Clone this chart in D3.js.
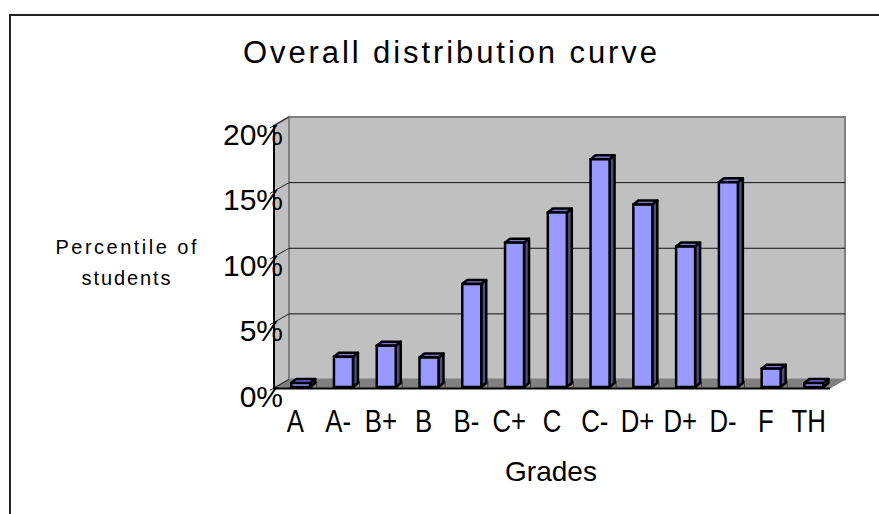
<!DOCTYPE html>
<html>
<head>
<meta charset="utf-8">
<script src="https://cdn.jsdelivr.net/npm/d3@7"></script>
<style>
  body { margin: 0; background: #fff; }
  svg { display: block; font-family: "Liberation Sans", Arial, sans-serif; }
</style>
</head>
<body>
<svg id="chart" width="879" height="514"></svg>
<script>
var grades = ['A', 'A-', 'B+', 'B', 'B-', 'C+', 'C', 'C-', 'D+', 'D+', 'D-', 'F', 'TH'];
var percents = [0.3, 2.3, 3.15, 2.25, 7.85, 11.0, 13.3, 17.35, 13.9, 10.7, 15.6, 1.4, 0.3];
var yTicks = [0, 5, 10, 15, 20];

var titleText = 'Overall distribution curve';
var yTitleLines = ['Percentile of', 'students'];
var xTitleText = 'Grades';

//////////////
// Settings //
//////////////

var svg = d3.select('#chart');

// front face of the plot box, and how far back the walls sit
var front = {left: 274, right: 830, bottom: 388, top: 125.5};
var depth = {dx: 15, dy: -8.5};
var barDepth = {dx: 5, dy: -4};
var barWidth = 19;

var x = d3.scaleBand()
  .domain(d3.range(grades.length))
  .range([front.left, front.right]);

var y = d3.scaleLinear()
  .domain([0, 20])
  .range([front.bottom, front.top]);

var pts = function(arr) {
  return arr.map(function(p) { return p.join(','); }).join(' ');
};

// outer chart border
svg.append('rect')
  .attr('x', 10).attr('y', 15)
  .attr('width', 900).attr('height', 540)
  .attr('fill', 'none')
  .attr('stroke', '#222')
  .attr('stroke-width', 2);

///////////
// Walls //
///////////

var walls = svg.append('g').classed('walls', true);

// back wall
walls.append('rect')
  .attr('x', front.left + depth.dx)
  .attr('y', y(20) + depth.dy)
  .attr('width', front.right - front.left)
  .attr('height', y(0) - y(20))
  .attr('fill', '#c0c0c0')
  .attr('stroke', '#808080')
  .attr('stroke-width', 2);

// side wall
walls.append('polygon')
  .attr('points', pts([
    [front.left, y(20)],
    [front.left + depth.dx, y(20) + depth.dy],
    [front.left + depth.dx, y(0) + depth.dy],
    [front.left, y(0)]
  ]))
  .attr('fill', '#c0c0c0')
  .attr('stroke', '#808080')
  .attr('stroke-width', 2);

// floor
walls.append('polygon')
  .attr('points', pts([
    [front.left, y(0)],
    [front.right, y(0)],
    [front.right + depth.dx, y(0) + depth.dy],
    [front.left + depth.dx, y(0) + depth.dy]
  ]))
  .attr('fill', '#808080')
  .attr('stroke', '#808080')
  .attr('stroke-width', 1);

// gridlines on the back wall (plus a diagonal over the side wall)
var grid = walls.selectAll('.grid')
  .data(yTicks.filter(function(t) { return t > 0 && t < 20; }))
  .enter()
  .append('g')
  .classed('grid', true);

grid.append('line')
  .attr('x1', front.left + depth.dx)
  .attr('x2', front.right + depth.dx)
  .attr('y1', function(t) { return y(t) + depth.dy; })
  .attr('y2', function(t) { return y(t) + depth.dy; })
  .attr('stroke', '#111')
  .attr('stroke-width', 1);

walls.selectAll('.tickdiag')
  .data(yTicks)
  .enter()
  .append('line')
  .classed('tickdiag', true)
  .attr('x1', front.left - 4)
  .attr('y1', function(t) { return y(t) + 2.3; })
  .attr('x2', front.left + depth.dx)
  .attr('y2', function(t) { return y(t) + depth.dy; })
  .attr('stroke', '#222')
  .attr('stroke-width', 1);

// value axis line
walls.append('line')
  .attr('x1', front.left).attr('x2', front.left)
  .attr('y1', y(20)).attr('y2', y(0) + 1)
  .attr('stroke', '#000')
  .attr('stroke-width', 2);

// category axis line and ticks
walls.append('line')
  .attr('x1', front.left).attr('x2', front.right)
  .attr('y1', y(0) + 0.5).attr('y2', y(0) + 0.5)
  .attr('stroke', '#000')
  .attr('stroke-width', 2);

walls.selectAll('.xtick')
  .data(d3.range(1, grades.length))
  .enter()
  .append('line')
  .classed('xtick', true)
  .attr('x1', function(i) { return x(i); })
  .attr('x2', function(i) { return x(i); })
  .attr('y1', y(0) - 7)
  .attr('y2', y(0))
  .attr('stroke', '#3a3a3a')
  .attr('stroke-width', 1);

//////////
// Bars //
//////////

var bars = svg.append('g').classed('bars', true)
  .selectAll('g')
  .data(percents)
  .enter()
  .append('g')
  .classed('bar', true);

var barLeft = function(d, i) { return x(i) + x.bandwidth() / 2 - 4.2; };
var barBase = y(0) - 1;
var barTop = function(d) { return y(d) - 1; };

bars.append('polygon') // side
  .attr('points', function(d, i) {
    var r = barLeft(d, i) + barWidth;
    return pts([
      [r, barTop(d)],
      [r + barDepth.dx, barTop(d) + barDepth.dy],
      [r + barDepth.dx, barBase + barDepth.dy],
      [r, barBase]
    ]);
  })
  .attr('fill', '#4d4d80')
  .attr('stroke', '#000')
  .attr('stroke-width', 2.5)
  .attr('stroke-linejoin', 'round');

bars.append('polygon') // top
  .attr('points', function(d, i) {
    var l = barLeft(d, i);
    return pts([
      [l, barTop(d)],
      [l + barDepth.dx, barTop(d) + barDepth.dy],
      [l + barWidth + barDepth.dx, barTop(d) + barDepth.dy],
      [l + barWidth, barTop(d)]
    ]);
  })
  .attr('fill', '#7878cc')
  .attr('stroke', '#000')
  .attr('stroke-width', 2.5)
  .attr('stroke-linejoin', 'round');

bars.append('rect') // front
  .attr('x', barLeft)
  .attr('y', function(d) { return barTop(d); })
  .attr('width', barWidth)
  .attr('height', function(d) { return barBase - barTop(d); })
  .attr('fill', '#9999ff')
  .attr('stroke', '#000')
  .attr('stroke-width', 2.5);

//////////
// Axes //
//////////

var yAxis = svg.append('g')
  .attr('transform', 'translate(' + front.left + ',9)')
  .call(d3.axisLeft(y)
    .tickValues(yTicks)
    .tickFormat(function(d) { return d + '%'; })
    .tickSize(0)
    .tickPadding(-9));
yAxis.select('.domain').remove();
yAxis.selectAll('text')
  .attr('font-size', 30)
  .attr('font-family', '"Liberation Sans", Arial, sans-serif')
  .attr('fill', '#000');

var xAxis = svg.append('g')
  .attr('transform', 'translate(0,' + y(0) + ')')
  .call(d3.axisBottom(x)
    .tickFormat(function(i) { return grades[i]; })
    .tickSize(0)
    .tickPadding(22));
xAxis.select('.domain').remove();
xAxis.selectAll('text')
  .attr('font-size', 31)
  .attr('font-family', '"Liberation Sans", Arial, sans-serif')
  .attr('fill', '#000')
  .each(function() {
    var w = this.getComputedTextLength();
    d3.select(this)
      .attr('textLength', w * 0.83)
      .attr('lengthAdjust', 'spacingAndGlyphs');
  });

////////////
// Titles //
////////////

svg.append('text')
  .attr('x', 450).attr('y', 63)
  .attr('text-anchor', 'middle')
  .attr('font-size', 31)
  .attr('textLength', 414)
  .attr('lengthAdjust', 'spacing')
  .text(titleText);

svg.selectAll('.ytitle')
  .data(yTitleLines)
  .enter()
  .append('text')
  .classed('ytitle', true)
  .attr('x', 126)
  .attr('y', function(d, i) { return 254 + i * 31; })
  .attr('text-anchor', 'middle')
  .attr('font-size', 20)
  .attr('textLength', function(d, i) { return i === 0 ? 141 : 89; })
  .attr('lengthAdjust', 'spacing')
  .text(function(d) { return d; });

svg.append('text')
  .attr('x', 551).attr('y', 481)
  .attr('text-anchor', 'middle')
  .attr('font-size', 28)
  .text(xTitleText);
</script>
</body>
</html>
